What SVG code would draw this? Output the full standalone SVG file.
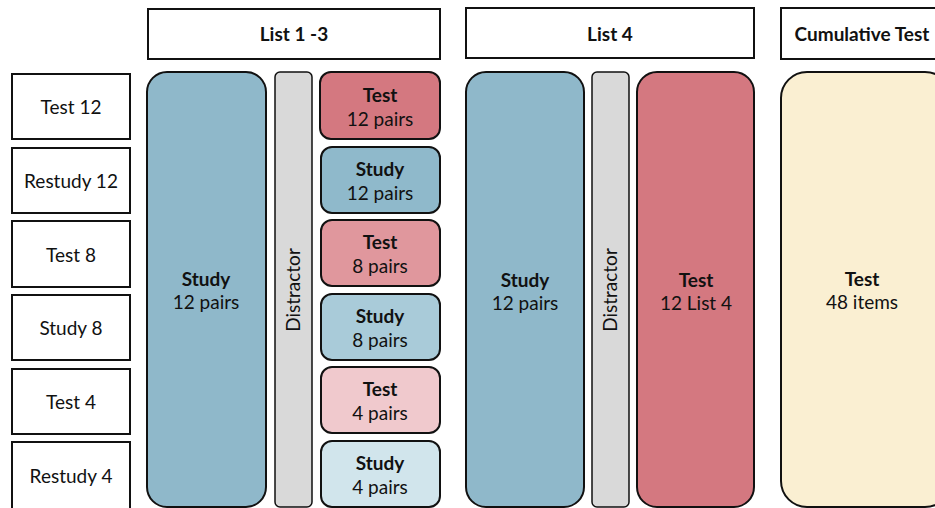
<svg xmlns="http://www.w3.org/2000/svg" width="935" height="508" viewBox="0 0 935 508">
<style>
text{font-family:Lato,"Open Sans","Liberation Sans",sans-serif;font-size:19px;fill:#111;text-anchor:middle}
.b{font-weight:bold}
.box{fill:#fff;stroke:#111;stroke-width:2}
.blk{stroke:#111;stroke-width:2}
.dist{fill:#d9d9d9;stroke:#111;stroke-width:1.5}
</style>
<rect width="935" height="508" fill="#fff"/>
<g id="headers">
<g id="h-list13"><rect class="box" x="148" y="9" width="292" height="50"/><text class="b" x="294" y="41">List 1 -3</text></g>
<g id="h-list4"><rect class="box" x="466" y="8" width="288" height="50"/><text class="b" x="610" y="41">List 4</text></g>
<g id="h-cum"><rect class="box" x="781" y="8" width="170" height="51"/><text class="b" x="862" y="41">Cumulative Test</text></g>
</g>
<g id="conditions">
<g id="c1"><rect class="box" x="12" y="74" width="118" height="65"/><text x="71" y="114">Test 12</text></g>
<g id="c2"><rect class="box" x="12" y="148" width="118" height="65"/><text x="71" y="188">Restudy 12</text></g>
<g id="c3"><rect class="box" x="12" y="221" width="118" height="66"/><text x="71" y="262">Test 8</text></g>
<g id="c4"><rect class="box" x="12" y="295" width="118" height="65"/><text x="71" y="335">Study 8</text></g>
<g id="c5"><rect class="box" x="12" y="369" width="118" height="65"/><text x="71" y="409">Test 4</text></g>
<g id="c6"><rect class="box" x="12" y="442" width="118" height="70"/><text x="71" y="483">Restudy 4</text></g>
</g>
<g id="list13">
<g id="study13"><rect class="blk" x="147" y="72" width="119" height="435" rx="20" fill="#8fb8ca"/><text class="b" x="206" y="286">Study</text><text x="206" y="309">12 pairs</text></g>
<g id="dist13"><rect class="dist" x="275" y="72" width="37" height="435" rx="5"/><text transform="translate(300,290) rotate(-90)">Distractor</text></g>
<g id="t12"><rect class="blk" x="320" y="72" width="120" height="67" rx="11" fill="#d47880"/><text class="b" x="380" y="102">Test</text><text x="380" y="126">12 pairs</text></g>
<g id="s12"><rect class="blk" x="321" y="147" width="119" height="66" rx="11" fill="#8fb9cb"/><text class="b" x="380" y="176">Study</text><text x="380" y="200">12 pairs</text></g>
<g id="t8"><rect class="blk" x="321" y="220" width="119" height="66" rx="11" fill="#e0979d"/><text class="b" x="380" y="249">Test</text><text x="380" y="273">8 pairs</text></g>
<g id="s8"><rect class="blk" x="321" y="294" width="119" height="66" rx="11" fill="#a9cbd9"/><text class="b" x="380" y="323">Study</text><text x="380" y="347">8 pairs</text></g>
<g id="t4"><rect class="blk" x="321" y="367" width="119" height="66" rx="11" fill="#f0c9cd"/><text class="b" x="380" y="396">Test</text><text x="380" y="420">4 pairs</text></g>
<g id="s4"><rect class="blk" x="321" y="441" width="119" height="66" rx="11" fill="#d1e5ec"/><text class="b" x="380" y="470">Study</text><text x="380" y="494">4 pairs</text></g>
</g>
<g id="list4">
<g id="study4"><rect class="blk" x="466" y="72" width="118" height="435" rx="20" fill="#8fb8ca"/><text class="b" x="525" y="287">Study</text><text x="525" y="310">12 pairs</text></g>
<g id="dist4"><rect class="dist" x="592" y="72" width="37" height="435" rx="5"/><text transform="translate(617,290) rotate(-90)">Distractor</text></g>
<g id="test4"><rect class="blk" x="637" y="72" width="117" height="435" rx="20" fill="#d47880"/><text class="b" x="696" y="287">Test</text><text x="696" y="310">12 List 4</text></g>
</g>
<g id="cum"><rect class="blk" x="781" y="72" width="170" height="435" rx="26" fill="#faefd2"/><text class="b" x="862" y="286">Test</text><text x="862" y="309">48 items</text></g>
<g id="connectors"></g>
</svg>
